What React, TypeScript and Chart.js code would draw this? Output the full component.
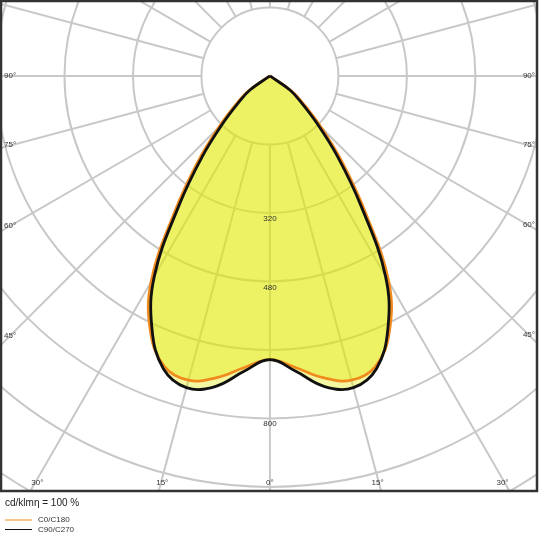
import React, { useEffect, useRef } from "react";
import { Chart, registerables } from "chart.js";

Chart.register(...registerables);

// Polar angles (degrees from nadir) and luminous intensity (cd/klm)
const ANGLES = [0, 5, 10, 15, 20, 25, 30, 35, 40, 45, 50, 55, 60, 65, 70, 75, 80, 85, 90];
const C0_C180 = [663, 684, 716, 736, 722, 660, 555, 388, 262, 167, 104, 64, 5, 0, 0, 0, 0, 0, 0];
const C90_C270 = [663, 693, 737, 754, 728, 652, 540, 372, 246, 153, 94, 57, 3, 0, 0, 0, 0, 0, 0];

const SERIES_LABELS = ["C0/C180", "C90/C270"];
const RING_STEP = 160;
const RING_COUNT = 8;
const RING_LABELS = [320, 480, 800];
const SIDE_ANGLE_LABELS = [90, 75, 60, 45];
const BOTTOM_ANGLE_LABELS = [30, 15, 0];
const RADIAL_STEP = 15;
const UNIT_TEXT = "cd/klmη = 100 %";

const FONT = "'Liberation Sans', Arial, sans-serif";
const GRID_COLOR = "#c8c8c8";
const TEXT_COLOR = "#333333";

function toPoints(values: number[]) {
  const pts: { x: number; y: number }[] = [];
  // left half, from 90° down to 0°
  for (let i = ANGLES.length - 1; i >= 0; i--) {
    const a = (-ANGLES[i] * Math.PI) / 180;
    pts.push({ x: values[i] * Math.sin(a), y: -values[i] * Math.cos(a) });
  }
  // right half, from 0° up to 90°
  for (let i = 1; i < ANGLES.length; i++) {
    const a = (ANGLES[i] * Math.PI) / 180;
    pts.push({ x: values[i] * Math.sin(a), y: -values[i] * Math.cos(a) });
  }
  return pts;
}

const polarPlugin = {
  id: "polarGrid",
  beforeDraw(chart: any) {
    const { ctx, chartArea: ca, scales } = chart;
    const xs = scales.x;
    const ys = scales.y;
    const cx = xs.getPixelForValue(0);
    const cy = ys.getPixelForValue(0);
    const ringPx = xs.getPixelForValue(RING_STEP) - cx;
    ctx.save();
    ctx.fillStyle = "#ffffff";
    ctx.fillRect(0, 0, chart.width, chart.height);
    ctx.beginPath();
    ctx.rect(ca.left, ca.top, ca.right - ca.left, ca.bottom - ca.top);
    ctx.clip();
    ctx.strokeStyle = GRID_COLOR;
    ctx.lineWidth = 2;
    for (let k = 1; k <= RING_COUNT; k++) {
      ctx.beginPath();
      ctx.arc(cx, cy, ringPx * k, 0, Math.PI * 2);
      ctx.stroke();
    }
    for (let a = 0; a < 360; a += RADIAL_STEP) {
      const r = (a * Math.PI) / 180;
      const dx = Math.sin(r);
      const dy = Math.cos(r);
      ctx.beginPath();
      ctx.moveTo(cx + dx * ringPx, cy + dy * ringPx);
      ctx.lineTo(cx + dx * 1200, cy + dy * 1200);
      ctx.stroke();
    }
    ctx.restore();
  },
  afterDatasetsDraw(chart: any) {
    const { ctx, scales } = chart;
    const xs = scales.x;
    const ys = scales.y;
    const cx = xs.getPixelForValue(0);
    ctx.save();
    ctx.fillStyle = TEXT_COLOR;
    ctx.font = `8px ${FONT}`;
    ctx.textAlign = "center";
    ctx.textBaseline = "top";
    for (const v of RING_LABELS) {
      const py = ys.getPixelForValue(-v);
      ctx.fillText(String(v), cx, py + 2);
    }
    ctx.restore();
  },
  afterDraw(chart: any) {
    const { ctx, chartArea: ca, scales } = chart;
    const xs = scales.x;
    const ys = scales.y;
    const cx = xs.getPixelForValue(0);
    const cy = ys.getPixelForValue(0);
    ctx.save();
    // frame
    ctx.strokeStyle = "#333333";
    ctx.lineWidth = 2.5;
    ctx.strokeRect(ca.left - 1, ca.top - 1, ca.right - ca.left + 1, ca.bottom - ca.top + 1);

    // side angle labels
    ctx.fillStyle = TEXT_COLOR;
    ctx.font = `8px ${FONT}`;
    ctx.textBaseline = "middle";
    for (const a of SIDE_ANGLE_LABELS) {
      const r = (a * Math.PI) / 180;
      const off = ((90 - a) / 45) * 8;
      const tl = (cx - ca.left) / Math.sin(r);
      const yl = cy + tl * Math.cos(r) - off;
      ctx.textAlign = "left";
      ctx.fillText(`${a}°`, ca.left + 2, yl);
      const tr = (ca.right - cx) / Math.sin(r);
      const yr = cy + tr * Math.cos(r) - off;
      ctx.textAlign = "right";
      ctx.fillText(`${a}°`, ca.right - 2, yr);
    }
    // bottom angle labels
    ctx.textAlign = "center";
    for (const a of BOTTOM_ANGLE_LABELS) {
      const r = (a * Math.PI) / 180;
      const dx = (ca.bottom - cy) * Math.tan(r);
      const off = (a / 30) * 7;
      const yb = ca.bottom - 8;
      ctx.fillText(`${a}°`, cx - dx + off, yb);
      if (a !== 0) ctx.fillText(`${a}°`, cx + dx - off, yb);
    }

    // unit text
    ctx.textAlign = "left";
    ctx.fillStyle = "#222222";
    ctx.font = `10px ${FONT}`;
    ctx.fillText(UNIT_TEXT, 5, ca.bottom + 12);

    // legend
    ctx.font = `8px ${FONT}`;
    chart.data.datasets.forEach((ds: any, i: number) => {
      const y = ca.bottom + 29 + i * 9.5;
      ctx.strokeStyle = ds.borderColor;
      ctx.lineWidth = 1;
      ctx.beginPath();
      ctx.moveTo(5, y);
      ctx.lineTo(32, y);
      ctx.stroke();
      ctx.fillStyle = TEXT_COLOR;
      ctx.fillText(ds.label, 38, y);
    });
    ctx.restore();
  },
};

export default function App() {
  const ref = useRef<HTMLCanvasElement | null>(null);
  useEffect(() => {
    if (!ref.current) return;
    const fill = "rgba(226, 232, 0, 0.37)";
    const chart = new Chart(ref.current, {
      type: "line",
      data: {
        datasets: [
          {
            label: SERIES_LABELS[0],
            data: toPoints(C0_C180),
            borderColor: "#f08a1c",
            backgroundColor: fill,
            borderWidth: 2.8,
            borderJoinStyle: "bevel",
            fill: "shape",
            pointRadius: 0,
            tension: 0.4,
            order: 1,
          },
          {
            label: SERIES_LABELS[1],
            data: toPoints(C90_C270),
            borderColor: "#111111",
            backgroundColor: fill,
            borderWidth: 2.8,
            borderJoinStyle: "bevel",
            fill: "shape",
            pointRadius: 0,
            tension: 0.4,
            order: 0,
          },
        ],
      } as any,
      options: {
        responsive: false,
        animation: false,
        layout: { padding: { left: 2, right: 3, top: 2, bottom: 49 } },
        scales: {
          x: { type: "linear", min: -626, max: 624, display: false },
          y: { type: "linear", min: -970, max: 173, display: false },
        },
        plugins: {
          legend: { display: false },
          tooltip: { enabled: false },
          filler: { drawTime: "beforeDatasetsDraw" },
        } as any,
      },
      plugins: [polarPlugin as any],
    });
    return () => chart.destroy();
  }, []);
  return (
    <div style={{ position: "absolute", left: 0, top: 0, width: 540, height: 540 }}>
      <canvas ref={ref} width={540} height={540} style={{ width: 540, height: 540, display: "block" }} />
    </div>
  );
}
